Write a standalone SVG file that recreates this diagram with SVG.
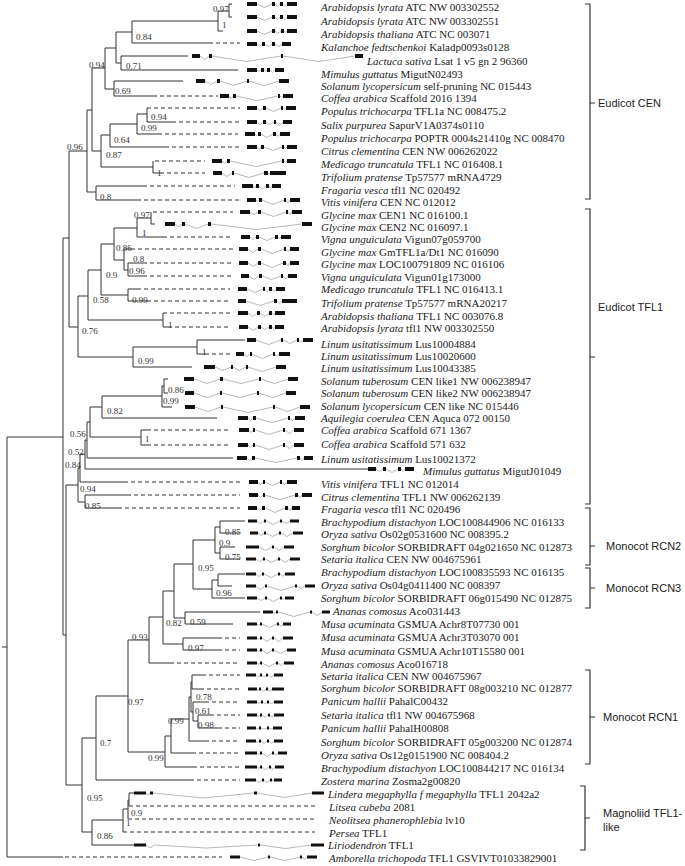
<svg xmlns="http://www.w3.org/2000/svg" width="685" height="866" viewBox="0 0 685 866">
<style>
.lb{font-family:"Liberation Serif","Times New Roman",serif;font-size:11px;fill:#1a1a1a}
.i{font-style:italic}
.nl{font-family:"Liberation Serif","Times New Roman",serif;font-size:9px;fill:#333}
.cl{font-family:"Liberation Sans",Arial,sans-serif;font-size:11px;fill:#222}
.br{fill:none;stroke:#333;stroke-width:1}
.ds{fill:none;stroke:#333;stroke-width:1;stroke-dasharray:4 3}
.ex{fill:#111}
.in{fill:none;stroke:#9a9a9a;stroke-width:0.7}
.bk{fill:none;stroke:#333;stroke-width:1.2}
</style>
<rect width="685" height="866" fill="#fff"/>
<g id="connectors">
<path class="br" d="M2 647H7 M7 437V857 M7 437H63 M7 857H63 M63 238V635 M63 238H69 M69 151V327 M69 151H87 M87 110V192 M87 110H92 M92 68V151 M92 68H105 M105 48V89 M105 48H116 M116 32V63 M116 32H132 M132 21V43 M132 21H218 M218 11V31 M218 11H229 M229 4V17 M229 4H232 M229 17H232 M218 31H223 M132 43H209 M116 63H121 M121 56V70 M121 56H188 M121 70H238 M105 89H114 M114 81V96 M114 81H183 M114 96H153 M92 151H101 M101 135V167 M101 135H110 M110 124V147 M110 124H137 M137 114V134 M137 114H147 M147 108V122 M147 122H172 M137 134H158 M110 147H165 M101 167H153 M153 161V173 M153 173H160 M87 192H96 M96 186V200 M96 186H143 M96 200H137"/>
<path class="br" d="M69 327H78 M78 296V357 M78 296H88 M88 270V320 M88 270H101 M101 244V295 M101 244H114 M114 228V260 M114 228H137 M137 218V237 M137 218H151 M151 212V224 M151 224H155 M137 237H163 M114 260H124 M124 249V270 M124 249H131 M124 270H128 M128 263V276 M128 263H143 M128 276H143 M101 295H128 M128 289V301 M128 289H137 M128 301H147 M88 320H163 M163 313V327 M163 327H168 M78 357H133 M133 347V367 M133 347H197 M197 340V354 M197 340H245 M197 354H205 M133 367H192"/>
<path class="br" d="M63 635H66 M66 485V785 M66 485H78 M78 468V502 M78 468H80 M80 454V482 M80 454H85 M85 440V469 M85 440H87 M87 422V458 M87 422H90 M90 407V437 M90 407H102 M102 396V418 M102 396H162 M162 386V407 M162 386H164 M164 379V393 M164 379H168 M164 393H168 M162 407H172 M102 418H217 M90 437H141 M141 430V445 M141 430H147 M141 445H147 M87 458H233 M85 469H368 M80 482H124 M78 502H85 M85 495V508 M85 495H127 M85 508H118"/>
<path class="br" d="M66 785H82 M82 738V832 M82 738H96 M96 696V780 M96 696H128 M128 640V752 M128 640H149 M149 617V663 M149 617H163 M163 591V644 M163 591H174 M174 564V618 M174 564H193 M193 540V589 M193 540H215 M215 527V553 M215 527H220 M220 521V533 M220 521H245 M220 533H240 M215 553H220 M220 547V559 M220 547H235 M220 559H240 M193 589H212 M212 580V598 M212 580H218 M218 574V586 M218 574H245 M218 586H232 M212 598H245 M174 618H185 M185 612V624 M185 612H260 M185 624H233 M163 644H183 M183 638V650 M183 638H218 M183 650H218 M149 663H170 M128 752H165 M165 736V767 M165 736H171 M171 719V753 M171 719H189 M189 697V741 M189 697H191 M191 682V712 M191 682H192 M192 675V689 M192 675H202 M192 689H200 M191 712H193 M193 702V721 M193 702H205 M193 721H198 M198 715V728 M198 715H210 M198 728H218 M189 741H205 M171 753H192 M165 767H193 M96 780H190 M82 832H92 M92 820V845 M92 820H123 M123 809V832 M123 809H128 M128 800V819 M128 800H129 M129 793V806 M129 793H134 M92 845H134"/>
<path class="ds" d="M209 43H240 M153 96H218 M147 108H240 M172 122H240 M158 134H238 M165 147H240 M155 161H205 M160 173H205 M143 186H235 M137 200H240 M153 212H233 M163 237H233 M131 249H233 M143 263H233 M143 276H233 M137 289H230 M147 301H230 M163 313H230 M168 327H230 M205 354H230 M147 430H230 M147 445H230 M124 482H240 M127 495H240 M118 508H240 M218 638H240 M218 650H240 M170 663H240 M202 675H240 M200 689H240 M205 702H240 M210 715H240 M218 728H240 M205 741H240 M192 753H240 M193 767H240 M190 780H240 M129 806H318 M128 819H315 M123 832H315 M65 857H222"/>
</g>
<g id="support">
<text class="nl" x="213" y="12">0.97</text><text class="nl" x="222" y="28">1</text><text class="nl" x="136" y="40">0.84</text><text class="nl" x="126" y="69">0.71</text><text class="nl" x="89" y="68">0.94</text><text class="nl" x="115" y="94">0.69</text><text class="nl" x="151" y="120">0.94</text><text class="nl" x="141" y="131">0.99</text><text class="nl" x="114" y="143">0.64</text><text class="nl" x="67" y="150">0.96</text><text class="nl" x="106" y="158">0.87</text><text class="nl" x="157" y="176">1</text><text class="nl" x="100" y="200">0.8</text>
<text class="nl" x="134" y="218">0.97</text><text class="nl" x="142" y="236">1</text><text class="nl" x="116" y="251">0.86</text><text class="nl" x="133" y="262">0.8</text><text class="nl" x="129" y="274">0.96</text><text class="nl" x="106" y="278">0.9</text><text class="nl" x="93" y="303">0.58</text><text class="nl" x="132" y="303">0.99</text><text class="nl" x="168" y="328">1</text><text class="nl" x="82" y="334">0.76</text><text class="nl" x="202" y="355">1</text><text class="nl" x="138" y="364">0.99</text><text class="nl" x="168" y="393">0.86</text><text class="nl" x="163" y="404">0.99</text><text class="nl" x="107" y="414">0.82</text>
<text class="nl" x="70" y="437">0.56</text><text class="nl" x="145" y="442">1</text><text class="nl" x="68" y="455">0.52</text><text class="nl" x="65" y="468">0.84</text><text class="nl" x="80" y="492">0.94</text><text class="nl" x="85" y="509">0.85</text><text class="nl" x="225" y="535">0.85</text><text class="nl" x="219" y="546">0.9</text><text class="nl" x="225" y="560">0.75</text><text class="nl" x="198" y="571">0.95</text><text class="nl" x="216" y="596">0.96</text><text class="nl" x="166" y="626">0.82</text><text class="nl" x="190" y="625">0.59</text><text class="nl" x="132" y="640">0.93</text>
<text class="nl" x="188" y="651">0.97</text><text class="nl" x="128" y="705">0.97</text><text class="nl" x="196" y="700">0.78</text><text class="nl" x="195" y="714">0.61</text><text class="nl" x="198" y="728">0.98</text><text class="nl" x="168" y="724">0.99</text><text class="nl" x="148" y="761">0.99</text><text class="nl" x="100" y="746">0.7</text><text class="nl" x="87" y="801">0.95</text><text class="nl" x="131" y="816">0.9</text><text class="nl" x="126" y="826">1</text><text class="nl" x="97" y="839">0.86</text>
</g>
<g id="leaf01"><path class="ex" d="M247 2h10v4h-10z M272 2h3v4h-3z M280 2h3v4h-3z M287 2h10v4h-10z"/><path class="in" d="M257 4L264.5 7.5L272 4 M275 4L277.5 6.5L280 4 M283 4L285 6.5L287 4"/><text class="lb" x="321" y="11"><tspan class="i">Arabidopsis lyrata</tspan> ATC NW 003302552</text></g>
<g id="leaf02"><path class="ex" d="M247 15h10v4h-10z M272 15h3v4h-3z M280 15h3v4h-3z M287 15h10v4h-10z"/><path class="in" d="M257 17L264.5 20.5L272 17 M275 17L277.5 19.5L280 17 M283 17L285 19.5L287 17"/><text class="lb" x="321" y="25"><tspan class="i">Arabidopsis lyrata</tspan> ATC NW 003302551</text></g>
<g id="leaf03"><path class="ex" d="M247 29h10v4h-10z M272 29h3v4h-3z M281 29h3v4h-3z M287 29h10v4h-10z"/><path class="in" d="M257 31L264.5 34.5L272 31 M275 31L278 33.5L281 31 M284 31L285.5 32.5L287 31"/><text class="lb" x="321" y="38"><tspan class="i">Arabidopsis thaliana</tspan> ATC NC 003071</text></g>
<g id="leaf04"><path class="ex" d="M247 42h10v4h-10z M262 42h3v4h-3z M272 42h3v4h-3z M282 42h9v4h-9z"/><path class="in" d="M257 44L259.5 46.5L262 44 M265 44L268.5 46.5L272 44 M275 44L278.5 46.5L282 44"/><text class="lb" x="321" y="51"><tspan class="i">Kalanchoe fedtschenkoi</tspan> Kaladp0093s0128</text></g>
<g id="leaf05"><path class="ex" d="M192 54h8v4h-8z M209 54h3v4h-3z M281 54h2v4h-2z M355 54h8v4h-8z"/><path class="in" d="M200 56L204.5 59.5L209 56 M212 56L246.5 61.5L281 56 M283 56L319 61.5L355 56"/><text class="lb" x="367" y="65"><tspan class="i">Lactuca sativa</tspan> Lsat 1 v5 gn 2 96360</text></g>
<g id="leaf06"><path class="ex" d="M247 68h10v4h-10z M261 68h3v4h-3z M267 68h3v4h-3z M275 68h9v4h-9z"/><path class="in" d="M257 70L259 71.5L261 70 M264 70L265.5 71.5L267 70 M270 70L272.5 72.5L275 70"/><text class="lb" x="321" y="78"><tspan class="i">Mimulus guttatus</tspan> MigutN02493</text></g>
<g id="leaf07"><path class="ex" d="M196 79h9v4h-9z M217 79h3v4h-3z M247 79h2v4h-2z M279 79h10v4h-10z"/><path class="in" d="M205 81L211 84.5L217 81 M220 81L233.5 85.5L247 81 M249 81L264 85.5L279 81"/><text class="lb" x="321" y="90"><tspan class="i">Solanum lycopersicum</tspan> self-pruning NC 015443</text></g>
<g id="leaf08"><path class="ex" d="M220 94h9v4h-9z M233 94h3v4h-3z M278 94h2v4h-2z M283 94h10v4h-10z"/><path class="in" d="M229 96L231 98.5L233 96 M236 96L257 100.5L278 96 M280 96L281.5 97.5L283 96"/><text class="lb" x="321" y="102"><tspan class="i">Coffea arabica</tspan> Scaffold 2016 1394</text></g>
<g id="leaf09"><path class="ex" d="M247 106h10v4h-10z M263 106h3v4h-3z M281 106h2v4h-2z M286 106h10v4h-10z"/><path class="in" d="M257 108L260 110.5L263 108 M266 108L273.5 111.5L281 108 M283 108L284.5 109.5L286 108"/><text class="lb" x="321" y="115"><tspan class="i">Populus trichocarpa</tspan> TFL1a NC 008475.2</text></g>
<g id="leaf10"><path class="ex" d="M247 120h10v4h-10z M263 120h3v4h-3z M274 120h2v4h-2z M283 120h9v4h-9z"/><path class="in" d="M257 122L260 124.5L263 122 M266 122L270 124.5L274 122 M276 122L279.5 125.5L283 122"/><text class="lb" x="321" y="129"><tspan class="i">Salix purpurea</tspan> SapurV1A0374s0110</text></g>
<g id="leaf11"><path class="ex" d="M245 132h10v4h-10z M258 132h3v4h-3z M273 132h3v4h-3z M280 132h10v4h-10z"/><path class="in" d="M255 134L256.5 135.5L258 134 M261 134L267 137.5L273 134 M276 134L278 136.5L280 134"/><text class="lb" x="321" y="142"><tspan class="i">Populus trichocarpa</tspan> POPTR 0004s21410g NC 008470</text></g>
<g id="leaf12"><path class="ex" d="M247 145h10v4h-10z M261 145h3v4h-3z M282 145h2v4h-2z M287 145h10v4h-10z"/><path class="in" d="M257 147L259 149.5L261 147 M264 147L273 150.5L282 147 M284 147L285.5 148.5L287 147"/><text class="lb" x="321" y="155"><tspan class="i">Citrus clementina</tspan> CEN NW 006262022</text></g>
<g id="leaf13"><path class="ex" d="M212 159h10v4h-10z M227 159h3v4h-3z M282 159h2v4h-2z M287 159h9v4h-9z"/><path class="in" d="M222 161L224.5 163.5L227 161 M230 161L256 166.5L282 161 M284 161L285.5 162.5L287 161"/><text class="lb" x="321" y="168"><tspan class="i">Medicago truncatula</tspan> TFL1 NC 016408.1</text></g>
<g id="leaf14"><path class="ex" d="M213 171h9v4h-9z M232 171h2v4h-2z M264 171h4v4h-4z M270 171h16v4h-16z"/><path class="in" d="M222 173L227 176.5L232 173 M234 173L249 177.5L264 173 M268 173L269 174.5L270 173"/><text class="lb" x="321" y="181"><tspan class="i">Trifolium pratense</tspan> Tp57577 mRNA4729</text></g>
<g id="leaf15"><path class="ex" d="M242 184h11v4h-11z M256 184h3v4h-3z M266 184h3v4h-3z M272 184h9v4h-9z"/><path class="in" d="M253 186L254.5 188L256 186 M259 186L262.5 189L266 186 M269 186L270.5 188L272 186"/><text class="lb" x="321" y="194"><tspan class="i">Fragaria vesca</tspan> tfl1 NC 020492</text></g>
<g id="leaf16"><path class="ex" d="M247 198h9v4h-9z M259 198h3v4h-3z M284 198h2v4h-2z M290 198h10v4h-10z"/><path class="in" d="M256 200L257.5 201.5L259 200 M262 200L273 204.5L284 200 M286 200L288 202.5L290 200"/><text class="lb" x="321" y="206"><tspan class="i">Vitis vinifera</tspan> CEN NC 012012</text></g>
<g id="leaf17"><path class="ex" d="M240 210h10v4h-10z M258 210h3v4h-3z M286 210h2v4h-2z M292 210h10v4h-10z"/><path class="in" d="M250 212L254 214.5L258 212 M261 212L273.5 216.5L286 212 M288 212L290 214.5L292 212"/><text class="lb" x="321" y="219"><tspan class="i">Glycine max</tspan> CEN1 NC 016100.1</text></g>
<g id="leaf18"><path class="ex" d="M165 222h10v4h-10z M182 222h3v4h-3z M208 222h3v4h-3z M302 222h10v4h-10z"/><path class="in" d="M175 224L178.5 226.5L182 224 M185 224L196.5 228.5L208 224 M211 224L256.5 229.5L302 224"/><text class="lb" x="321" y="231"><tspan class="i">Glycine max</tspan> CEN2 NC 016097.1</text></g>
<g id="leaf19"><path class="ex" d="M241 235h9v4h-9z M256 235h3v4h-3z M275 235h3v4h-3z M281 235h10v4h-10z"/><path class="in" d="M250 237L253 239.5L256 237 M259 237L267 240.5L275 237 M278 237L279.5 238.5L281 237"/><text class="lb" x="321" y="243"><tspan class="i">Vigna unguiculata</tspan> Vigun07g059700</text></g>
<g id="leaf20"><path class="ex" d="M239 247h9v4h-9z M258 247h3v4h-3z M284 247h2v4h-2z M290 247h9v4h-9z"/><path class="in" d="M248 249L253 252.5L258 249 M261 249L272.5 253.5L284 249 M286 249L288 251.5L290 249"/><text class="lb" x="321" y="256"><tspan class="i">Glycine max</tspan> GmTFL1a/Dt1 NC 016090</text></g>
<g id="leaf21"><path class="ex" d="M239 261h9v4h-9z M258 261h3v4h-3z M283 261h3v4h-3z M290 261h9v4h-9z"/><path class="in" d="M248 263L253 266.5L258 263 M261 263L272 267.5L283 263 M286 263L288 265.5L290 263"/><text class="lb" x="321" y="268"><tspan class="i">Glycine max</tspan> LOC100791809 NC 016106</text></g>
<g id="leaf22"><path class="ex" d="M241 274h8v4h-8z M259 274h3v4h-3z M281 274h2v4h-2z M288 274h9v4h-9z"/><path class="in" d="M249 276L254 279.5L259 276 M262 276L271.5 279.5L281 276 M283 276L285.5 278.5L288 276"/><text class="lb" x="321" y="281"><tspan class="i">Vigna unguiculata</tspan> Vigun01g173000</text></g>
<g id="leaf23"><path class="ex" d="M238 287h9v4h-9z M263 287h2v4h-2z M269 287h3v4h-3z M276 287h9v4h-9z"/><path class="in" d="M247 289L255 292.5L263 289 M265 289L267 291.5L269 289 M272 289L274 291.5L276 289"/><text class="lb" x="321" y="293"><tspan class="i">Medicago truncatula</tspan> TFL1 NC 016413.1</text></g>
<g id="leaf24"><path class="ex" d="M238 299h8v4h-8z M274 299h3v4h-3z M282 299h15v4h-15z"/><path class="in" d="M246 301L260 305.5L274 301 M277 301L279.5 303.5L282 301"/><text class="lb" x="321" y="307"><tspan class="i">Trifolium pratense</tspan> Tp57577 mRNA20217</text></g>
<g id="leaf25"><path class="ex" d="M238 311h10v4h-10z M257 311h3v4h-3z M269 311h3v4h-3z M275 311h10v4h-10z"/><path class="in" d="M248 313L252.5 316.5L257 313 M260 313L264.5 316.5L269 313 M272 313L273.5 314.5L275 313"/><text class="lb" x="321" y="320"><tspan class="i">Arabidopsis thaliana</tspan> TFL1 NC 003076.8</text></g>
<g id="leaf26"><path class="ex" d="M239 325h9v4h-9z M258 325h3v4h-3z M269 325h3v4h-3z M275 325h9v4h-9z"/><path class="in" d="M248 327L253 330.5L258 327 M261 327L265 329.5L269 327 M272 327L273.5 328.5L275 327"/><text class="lb" x="321" y="332"><tspan class="i">Arabidopsis lyrata</tspan> tfl1 NW 003302550</text></g>
<g id="leaf27"><path class="ex" d="M247 338h9v4h-9z M281 338h2v4h-2z M297 338h2v4h-2z M303 338h10v4h-10z"/><path class="in" d="M256 340L268.5 344.5L281 340 M283 340L290 343.5L297 340 M299 340L301 342.5L303 340"/><text class="lb" x="321" y="348"><tspan class="i">Linum usitatissimum</tspan> Lus10004884</text></g>
<g id="leaf28"><path class="ex" d="M236 352h8v4h-8z M250 352h2v4h-2z M273 352h2v4h-2z M279 352h11v4h-11z"/><path class="in" d="M244 354L247 356.5L250 354 M252 354L262.5 358.5L273 354 M275 354L277 356.5L279 354"/><text class="lb" x="321" y="360"><tspan class="i">Linum usitatissimum</tspan> Lus10020600</text></g>
<g id="leaf29"><path class="ex" d="M204 365h11v4h-11z M231 365h2v4h-2z M246 365h2v4h-2z M276 365h10v4h-10z"/><path class="in" d="M215 367L223 370.5L231 367 M233 367L239.5 370.5L246 367 M248 367L262 371.5L276 367"/><text class="lb" x="321" y="372"><tspan class="i">Linum usitatissimum</tspan> Lus10043385</text></g>
<g id="leaf30"><path class="ex" d="M184 377h10v4h-10z M220 377h3v4h-3z M259 377h2v4h-2z M288 377h10v4h-10z"/><path class="in" d="M194 379L207 383.5L220 379 M223 379L241 383.5L259 379 M261 379L274.5 383.5L288 379"/><text class="lb" x="321" y="385"><tspan class="i">Solanum tuberosum</tspan> CEN like1 NW 006238947</text></g>
<g id="leaf31"><path class="ex" d="M185 391h9v4h-9z M220 391h2v4h-2z M257 391h2v4h-2z M286 391h10v4h-10z"/><path class="in" d="M194 393L207 397.5L220 393 M222 393L239.5 397.5L257 393 M259 393L272.5 397.5L286 393"/><text class="lb" x="321" y="397"><tspan class="i">Solanum tuberosum</tspan> CEN like2 NW 006238947</text></g>
<g id="leaf32"><path class="ex" d="M185 405h10v4h-10z M221 405h2v4h-2z M273 405h2v4h-2z M300 405h10v4h-10z"/><path class="in" d="M195 407L208 411.5L221 407 M223 407L248 412.5L273 407 M275 407L287.5 411.5L300 407"/><text class="lb" x="321" y="410"><tspan class="i">Solanum lycopersicum</tspan> CEN like NC 015446</text></g>
<g id="leaf33"><path class="ex" d="M238 416h10v4h-10z M253 416h3v4h-3z M288 416h2v4h-2z M295 416h10v4h-10z"/><path class="in" d="M248 418L250.5 420.5L253 418 M256 418L272 422.5L288 418 M290 418L292.5 420.5L295 418"/><text class="lb" x="321" y="422"><tspan class="i">Aquilegia coerulea</tspan> CEN Aquca 072 00150</text></g>
<g id="leaf34"><path class="ex" d="M239 428h10v4h-10z M253 428h2v4h-2z M283 428h2v4h-2z M294 428h10v4h-10z"/><path class="in" d="M249 430L251 432.5L253 430 M255 430L269 434.5L283 430 M285 430L289.5 433.5L294 430"/><text class="lb" x="321" y="434"><tspan class="i">Coffea arabica</tspan> Scaffold 671 1367</text></g>
<g id="leaf35"><path class="ex" d="M238 443h10v4h-10z M253 443h2v4h-2z M283 443h2v4h-2z M294 443h10v4h-10z"/><path class="in" d="M248 445L250.5 447.5L253 445 M255 445L269 449.5L283 445 M285 445L289.5 448.5L294 445"/><text class="lb" x="321" y="448"><tspan class="i">Coffea arabica</tspan> Scaffold 571 632</text></g>
<g id="leaf36"><path class="ex" d="M237 456h10v4h-10z M252 456h3v4h-3z M297 456h3v4h-3z M304 456h9v4h-9z"/><path class="in" d="M247 458L249.5 460.5L252 458 M255 458L276 462.5L297 458 M300 458L302 460.5L304 458"/><text class="lb" x="321" y="463"><tspan class="i">Linum usitatissimum</tspan> Lus10021372</text></g>
<g id="leaf37"><path class="ex" d="M368 467h8v4h-8z M383 467h3v4h-3z M398 467h3v4h-3z M405 467h9v4h-9z"/><path class="in" d="M376 469L379.5 471.5L383 469 M386 469L392 472.5L398 469 M401 469L403 471.5L405 469"/><text class="lb" x="423" y="475"><tspan class="i">Mimulus guttatus</tspan> MigutJ01049</text></g>
<g id="leaf38"><path class="ex" d="M249 480h9v4h-9z M263 480h2v4h-2z M280 480h2v4h-2z M287 480h10v4h-10z"/><path class="in" d="M258 482L260.5 484.5L263 482 M265 482L272.5 485.5L280 482 M282 482L284.5 484.5L287 482"/><text class="lb" x="321" y="488"><tspan class="i">Vitis vinifera</tspan> TFL1 NC 012014</text></g>
<g id="leaf39"><path class="ex" d="M249 493h9v4h-9z M263 493h2v4h-2z M295 493h3v4h-3z M302 493h10v4h-10z"/><path class="in" d="M258 495L260.5 497.5L263 495 M265 495L280 499.5L295 495 M298 495L300 497.5L302 495"/><text class="lb" x="321" y="501"><tspan class="i">Citrus clementina</tspan> TFL1 NW 006262139</text></g>
<g id="leaf40"><path class="ex" d="M248 506h9v4h-9z M262 506h3v4h-3z M285 506h3v4h-3z M292 506h8v4h-8z"/><path class="in" d="M257 508L259.5 510.5L262 508 M265 508L275 512.5L285 508 M288 508L290 510.5L292 508"/><text class="lb" x="321" y="513"><tspan class="i">Fragaria vesca</tspan> tfl1 NC 020496</text></g>
<g id="leaf41"><path class="ex" d="M248 519.5h9v3h-9z M264 519.5h2v3h-2z M280 519.5h2v3h-2z M290 519.5h9v3h-9z"/><path class="in" d="M257 521L260.5 523.5L264 521 M266 521L273 524.5L280 521 M282 521L286 523.5L290 521"/><text class="lb" x="321" y="526"><tspan class="i">Brachypodium distachyon</tspan> LOC100844906 NC 016133</text></g>
<g id="leaf42"><path class="ex" d="M250 531.5h8v3h-8z M264 531.5h2v3h-2z M279 531.5h2v3h-2z M293 531.5h10v3h-10z"/><path class="in" d="M258 533L261 535.5L264 533 M266 533L272.5 536.5L279 533 M281 533L287 536.5L293 533"/><text class="lb" x="321" y="538"><tspan class="i">Oryza sativa</tspan> Os02g0531600 NC 008395.2</text></g>
<g id="leaf43"><path class="ex" d="M246 545.5h13v3h-13z M272 545.5h2v3h-2z M284 545.5h10v3h-10z"/><path class="in" d="M259 547L265.5 550.5L272 547 M274 547L279 550.5L284 547"/><text class="lb" x="321" y="551"><tspan class="i">Sorghum bicolor</tspan> SORBIDRAFT 04g021650 NC 012873</text></g>
<g id="leaf44"><path class="ex" d="M246 557.5h10v3h-10z M263 557.5h2v3h-2z M278 557.5h2v3h-2z M290 557.5h10v3h-10z"/><path class="in" d="M256 559L259.5 561.5L263 559 M265 559L271.5 562.5L278 559 M280 559L285 562.5L290 559"/><text class="lb" x="321" y="563"><tspan class="i">Setaria italica</tspan> CEN NW 004675961</text></g>
<g id="leaf45"><path class="ex" d="M246 572.5h10v3h-10z M262 572.5h2v3h-2z M278 572.5h2v3h-2z M285 572.5h10v3h-10z"/><path class="in" d="M256 574L259 576.5L262 574 M264 574L271 577.5L278 574 M280 574L282.5 576.5L285 574"/><text class="lb" x="321" y="576"><tspan class="i">Brachypodium distachyon</tspan> LOC100835593 NC 016135</text></g>
<g id="leaf46"><path class="ex" d="M246 584.5h10v3h-10z M265 584.5h2v3h-2z M295 584.5h2v3h-2z M305 584.5h10v3h-10z"/><path class="in" d="M256 586L260.5 589.5L265 586 M267 586L281 590.5L295 586 M297 586L301 588.5L305 586"/><text class="lb" x="321" y="589"><tspan class="i">Oryza sativa</tspan> Os04g0411400 NC 008397</text></g>
<g id="leaf47"><path class="ex" d="M247 596.5h10v3h-10z M265 596.5h2v3h-2z M280 596.5h2v3h-2z M285 596.5h9v3h-9z"/><path class="in" d="M257 598L261 600.5L265 598 M267 598L273.5 601.5L280 598 M282 598L283.5 599.5L285 598"/><text class="lb" x="321" y="602"><tspan class="i">Sorghum bicolor</tspan> SORBIDRAFT 06g015490 NC 012875</text></g>
<g id="leaf48"><path class="ex" d="M263 610.5h10v3h-10z M276 610.5h2v3h-2z M310 610.5h2v3h-2z M322 610.5h8v3h-8z"/><path class="in" d="M273 612L274.5 613.5L276 612 M278 612L294 616.5L310 612 M312 612L317 615.5L322 612"/><text class="lb" x="333" y="615"><tspan class="i">Ananas comosus</tspan> Aco031443</text></g>
<g id="leaf49"><path class="ex" d="M247 622.5h10v3h-10z M260 622.5h2v3h-2z M277 622.5h2v3h-2z M283 622.5h8v3h-8z"/><path class="in" d="M257 624L258.5 625.5L260 624 M262 624L269.5 627.5L277 624 M279 624L281 626.5L283 624"/><text class="lb" x="321" y="628"><tspan class="i">Musa acuminata</tspan> GSMUA Achr8T07730 001</text></g>
<g id="leaf50"><path class="ex" d="M247 636.5h10v3h-10z M260 636.5h2v3h-2z M272 636.5h2v3h-2z M283 636.5h10v3h-10z"/><path class="in" d="M257 638L258.5 639.5L260 638 M262 638L267 641.5L272 638 M274 638L278.5 641.5L283 638"/><text class="lb" x="321" y="641"><tspan class="i">Musa acuminata</tspan> GSMUA Achr3T03070 001</text></g>
<g id="leaf51"><path class="ex" d="M247 648.5h10v3h-10z M260 648.5h2v3h-2z M272 648.5h2v3h-2z M287 648.5h9v3h-9z"/><path class="in" d="M257 650L258.5 651.5L260 650 M262 650L267 653.5L272 650 M274 650L280.5 653.5L287 650"/><text class="lb" x="321" y="655"><tspan class="i">Musa acuminata</tspan> GSMUA Achr10T15580 001</text></g>
<g id="leaf52"><path class="ex" d="M247 661.5h10v3h-10z M260 661.5h2v3h-2z M276 661.5h2v3h-2z M284 661.5h10v3h-10z"/><path class="in" d="M257 663L258.5 664.5L260 663 M262 663L269 666.5L276 663 M278 663L281 665.5L284 663"/><text class="lb" x="321" y="668"><tspan class="i">Ananas comosus</tspan> Aco016718</text></g>
<g id="leaf53"><path class="ex" d="M246 673.5h10v3h-10z M260 673.5h2v3h-2z M266 673.5h2v3h-2z M274 673.5h9v3h-9z"/><path class="in" d="M256 675L258 677.5L260 675 M262 675L264 677.5L266 675 M268 675L271 677.5L274 675"/><text class="lb" x="321" y="680"><tspan class="i">Setaria italica</tspan> CEN NW 004675967</text></g>
<g id="leaf54"><path class="ex" d="M248 687.5h9v3h-9z M259 687.5h2v3h-2z M266 687.5h2v3h-2z M272 687.5h12v3h-12z"/><path class="in" d="M257 689L258 690.5L259 689 M261 689L263.5 691.5L266 689 M268 689L270 691.5L272 689"/><text class="lb" x="321" y="692"><tspan class="i">Sorghum bicolor</tspan> SORBIDRAFT 08g003210 NC 012877</text></g>
<g id="leaf55"><path class="ex" d="M247 700.5h10v3h-10z M261 700.5h2v3h-2z M267 700.5h2v3h-2z M274 700.5h9v3h-9z"/><path class="in" d="M257 702L259 703.5L261 702 M263 702L265 703.5L267 702 M269 702L271.5 703.5L274 702"/><text class="lb" x="321" y="705"><tspan class="i">Panicum hallii</tspan> PahalC00432</text></g>
<g id="leaf56"><path class="ex" d="M247 713.5h10v3h-10z M260 713.5h2v3h-2z M268 713.5h2v3h-2z M274 713.5h10v3h-10z"/><path class="in" d="M257 715L258.5 716.5L260 715 M262 715L265 717.5L268 715 M270 715L272 717.5L274 715"/><text class="lb" x="321" y="719"><tspan class="i">Setaria italica</tspan> tfl1 NW 004675968</text></g>
<g id="leaf57"><path class="ex" d="M247 726.5h9v3h-9z M259 726.5h2v3h-2z M267 726.5h2v3h-2z M273 726.5h9v3h-9z"/><path class="in" d="M256 728L257.5 729L259 728 M261 728L264 729L267 728 M269 728L271 729L273 728"/><text class="lb" x="321" y="732"><tspan class="i">Panicum hallii</tspan> PahalH00808</text></g>
<g id="leaf58"><path class="ex" d="M246 739.5h10v3h-10z M259 739.5h2v3h-2z M267 739.5h2v3h-2z M274 739.5h9v3h-9z"/><path class="in" d="M256 741L257.5 742.5L259 741 M261 741L264 743.5L267 741 M269 741L271.5 743.5L274 741"/><text class="lb" x="321" y="746"><tspan class="i">Sorghum bicolor</tspan> SORBIDRAFT 05g003200 NC 012874</text></g>
<g id="leaf59"><path class="ex" d="M245 751.5h12v3h-12z M260 751.5h2v3h-2z M272 751.5h2v3h-2z M278 751.5h9v3h-9z"/><path class="in" d="M257 753L258.5 754.5L260 753 M262 753L267 756.5L272 753 M274 753L276 755.5L278 753"/><text class="lb" x="321" y="759"><tspan class="i">Oryza sativa</tspan> Os12g0151900 NC 008404.2</text></g>
<g id="leaf60"><path class="ex" d="M245 765.5h12v3h-12z M260 765.5h2v3h-2z M269 765.5h2v3h-2z M275 765.5h9v3h-9z"/><path class="in" d="M257 767L258.5 768.5L260 767 M262 767L265.5 769.5L269 767 M271 767L273 769.5L275 767"/><text class="lb" x="321" y="772"><tspan class="i">Brachypodium distachyon</tspan> LOC100844217 NC 016134</text></g>
<g id="leaf61"><path class="ex" d="M245 778.5h11v3h-11z M262 778.5h2v3h-2z M270 778.5h2v3h-2z M274 778.5h8v3h-8z"/><path class="in" d="M256 780L259 782.5L262 780 M264 780L267 782.5L270 780 M272 780L273 781L274 780"/><text class="lb" x="321" y="785"><tspan class="i">Zostera marina</tspan> Zosma2g00820</text></g>
<g id="leaf62"><path class="ex" d="M134 791.5h12v3h-12z M150 791.5h3v3h-3z M254 791.5h3v3h-3z M312 791.5h12v3h-12z"/><path class="in" d="M146 793L148 795.5L150 793 M153 793L203.5 798L254 793 M257 793L284.5 797.5L312 793"/><text class="lb" x="328" y="798"><tspan class="i">Lindera megaphylla f megaphylla</tspan> TFL1 2042a2</text></g>
<g id="leaf63"><text class="lb" x="329" y="811"><tspan class="i">Litsea cubeba</tspan> 2081</text></g>
<g id="leaf64"><text class="lb" x="329" y="824"><tspan class="i">Neolitsea phanerophlebia</tspan> lv10</text></g>
<g id="leaf65"><text class="lb" x="329" y="837"><tspan class="i">Persea</tspan> TFL1</text></g>
<g id="leaf66"><path class="ex" d="M134 843.5h12v3h-12z M258 843.5h2v3h-2z M311 843.5h13v3h-13z"/><path class="in" d="M146 845L150 848L154 845L206 848L258 845 M260 845L285.5 848.5L311 845"/><text class="lb" x="328" y="849"><tspan class="i">Liriodendron</tspan> TFL1</text></g>
<g id="leaf67"><path class="ex" d="M230 855.5h10v3h-10z M268 855.5h2v3h-2z M300 855.5h2v3h-2z M307 855.5h10v3h-10z"/><path class="in" d="M240 857L254 860.5L268 857 M270 857L285 860.5L300 857 M302 857L304.5 859.5L307 857"/><text class="lb" x="329" y="862"><tspan class="i">Amborella trichopoda</tspan> TFL1 GSVIVT01033829001</text></g>
<g id="clade-eudicot-cen"><path class="bk" d="M585 4H590V199H585 M590 103H595"/><text class="cl" x="598" y="107">Eudicot CEN</text></g>
<g id="clade-eudicot-tfl1"><path class="bk" d="M585 209H590V504H585 M590 357H595"/><text class="cl" x="598" y="311">Eudicot TFL1</text></g>
<g id="clade-rcn2"><path class="bk" d="M585 508H590V565H585 M590 546H595"/><text class="cl" x="606" y="550">Monocot RCN2</text></g>
<g id="clade-rcn3"><path class="bk" d="M585 568H590V608H585 M590 588H595"/><text class="cl" x="606" y="592">Monocot RCN3</text></g>
<g id="clade-rcn1"><path class="bk" d="M585 670H590V764H585 M590 717H595"/><text class="cl" x="603" y="721">Monocot RCN1</text></g>
<g id="clade-magnoliid"><path class="bk" d="M580 786H585V850H580 M585 818H590"/><text class="cl" x="603" y="817">Magnoliid TFL1-</text><text class="cl" x="603" y="831">like</text></g>
</svg>
